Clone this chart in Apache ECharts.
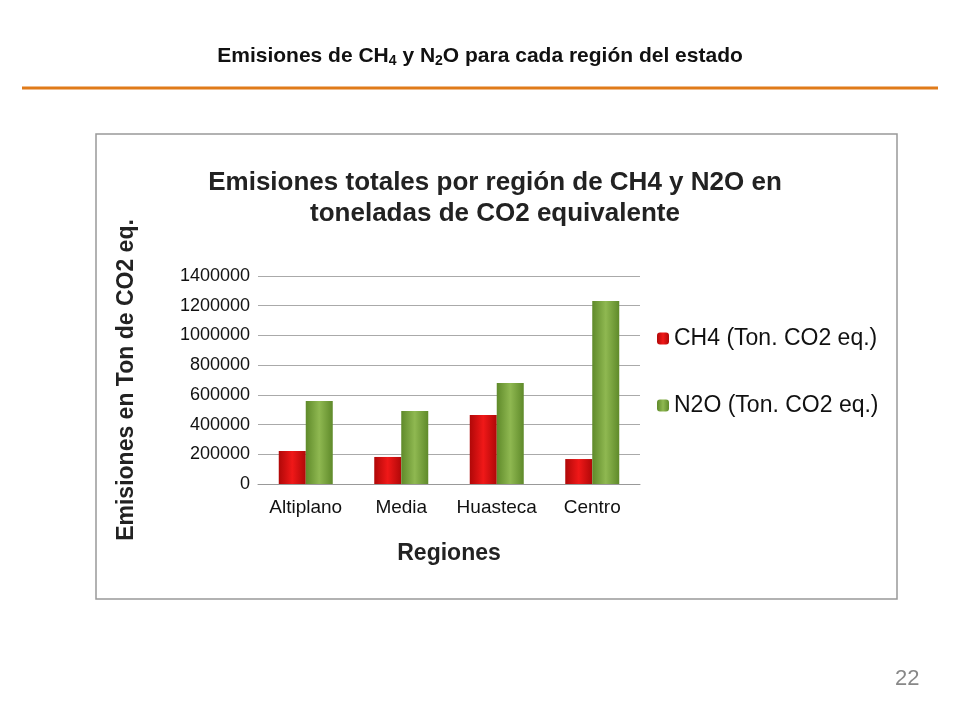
<!DOCTYPE html>
<html><head><meta charset="utf-8">
<script src="https://cdn.jsdelivr.net/npm/echarts@6/dist/echarts.min.js"></script>
<style>html,body{margin:0;padding:0;background:#fff}#c{width:960px;height:720px}</style>
</head><body><div id="c"></div>
<script>
const categories = ['Altiplano','Media','Huasteca','Centro'];
const ch4 = [222000, 182000, 464000, 168000];
const n2o = [559000, 491000, 680000, 1232000];
const seriesNames = ['CH4 (Ton. CO2 eq.)','N2O (Ton. CO2 eq.)'];

const chart = echarts.init(document.getElementById('c'));
const grad = (top, bot) => new echarts.graphic.LinearGradient(0,0,1,0,[{offset:0,color:bot},{offset:0.5,color:top},{offset:1,color:bot}]);
chart.setOption({
  animation:false,
  textStyle:{fontFamily:'Liberation Sans, Arial, sans-serif'},
  title:[{
    text:'{a|Emisiones de CH}{s|4}{a| y N}{s|2}{a|O para cada región del estado}',
    left:'center', top:40,
    textStyle:{rich:{a:{fontSize:21,fontWeight:'bold',color:'#111'},s:{fontSize:14,fontWeight:'bold',color:'#111',verticalAlign:'bottom',padding:[9,0,0,0]}}}
  },{
    text:'Emisiones totales por región de CH4 y N2O en\ntoneladas de CO2 equivalente',
    left:490, textAlign:'center', top:162,
    textStyle:{fontSize:26,fontWeight:'bold',color:'#222',lineHeight:31}
  }],
  graphic:[
    {type:'line',shape:{x1:22,y1:88,x2:938,y2:88},style:{stroke:'#e07b1a',lineWidth:3}},
    {type:'rect',shape:{x:96,y:134,width:801,height:465},style:{fill:'none',stroke:'#999',lineWidth:1.5}},
    {type:'text',left:895,top:668,style:{text:'22',fontSize:22,fill:'#888'}}
  ],
  legend:{
    orient:'vertical', left:652, top:322, itemGap:44, itemWidth:12, itemHeight:12,
    textStyle:{fontSize:23,color:'#111'},
    data:seriesNames
  },
  grid:{left:258,right:320,top:276,bottom:236},
  xAxis:{
    type:'category', data:categories,
    name:'Regiones', nameLocation:'middle', nameGap:58,
    nameTextStyle:{fontSize:23,fontWeight:'bold',color:'#222'},
    axisLabel:{fontSize:19,color:'#111',margin:14,interval:0},
    axisTick:{show:false},
    axisLine:{lineStyle:{color:'#999'}}
  },
  yAxis:{
    type:'value', min:0, max:1400000, interval:200000,
    name:'Emisiones en Ton de CO2 eq.', nameLocation:'middle', nameGap:120,
    nameTextStyle:{fontSize:23,fontWeight:'bold',color:'#222'},
    axisLabel:{fontSize:18,color:'#111',formatter:v=>String(v)},
    splitLine:{lineStyle:{color:'#aaa'}},
    axisLine:{show:false}
  },
  series:[
    {name:seriesNames[0],type:'bar',data:ch4,barWidth:27,barGap:'0%',
     itemStyle:{color:grad('#f01818','#b00808')}},
    {name:seriesNames[1],type:'bar',data:n2o,barWidth:27,
     itemStyle:{color:grad('#8fb851','#5f8a2a')}}
  ]
});
</script></body></html>
